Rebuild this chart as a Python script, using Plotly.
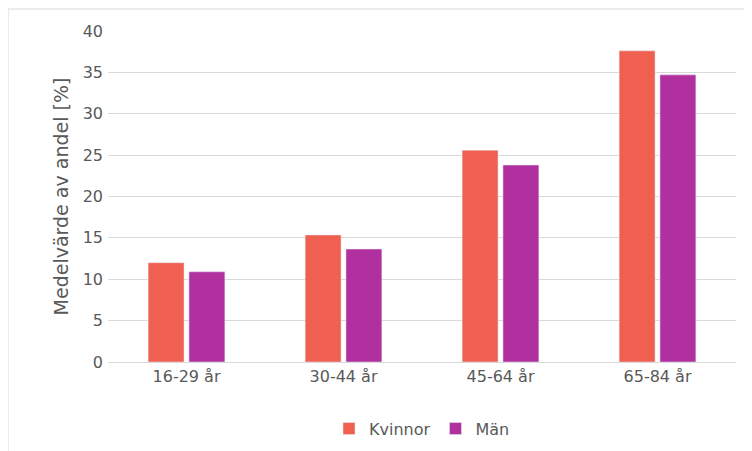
import plotly.graph_objects as go

categories = ["16-29 år", "30-44 år", "45-64 år", "65-84 år"]
kvinnor = [12.0, 15.35, 25.6, 37.6]
man = [10.9, 13.65, 23.8, 34.7]

fig = go.Figure()
fig.add_trace(go.Bar(x=categories, y=kvinnor, name="Kvinnor", marker_color="#F06050"))
fig.add_trace(go.Bar(x=categories, y=man, name="Män", marker_color="#B030A0"))

fig.update_layout(
    width=752, height=451,
    paper_bgcolor="white", plot_bgcolor="white",
    font=dict(family="DejaVu Sans", size=16, color="#595959"),
    margin=dict(l=100, r=24, t=23, b=97),
    bargap=0.48, bargroupgap=0.12,
    legend=dict(orientation="h", x=0.5, xanchor="center", y=-0.15, yanchor="top",
                font=dict(size=16)),
    xaxis=dict(showline=True, linecolor="#d9d9d9", ticks=""),
    yaxis=dict(range=[0, 40], dtick=5, gridcolor="#d9d9d9", zeroline=False,
               ticklabelstandoff=4,
               title=dict(text="Medelvärde av andel [%]", font=dict(size=19), standoff=8)),
    shapes=[dict(type="rect", xref="paper", yref="paper", x0=-100/628, x1=1 + 23/628,
                 y0=-96/331, y1=1 + 22/331, line=dict(color="#d9d9d9", width=1))],
)
fig.write_html("out.html")
